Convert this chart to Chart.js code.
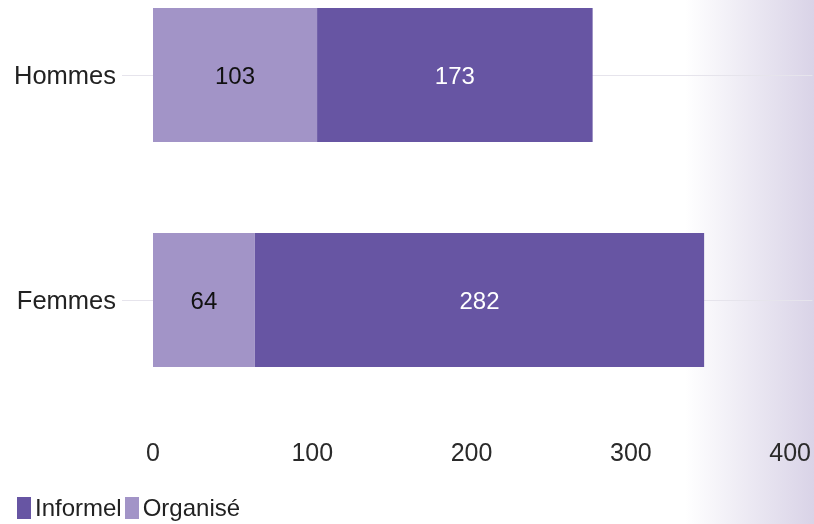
<html>
<head>
<script src="https://cdn.jsdelivr.net/npm/chart.js@4/dist/chart.umd.min.js"></script>
<style>
  html, body { margin: 0; padding: 0; }
  body {
    width: 814px; height: 524px; overflow: hidden; position: relative;
    background: linear-gradient(to right, #ffffff 0px, #ffffff 685px, #d9d3e7 814px);
    font-family: "Liberation Sans", Arial, sans-serif;
  }
  #wrap { position: absolute; left: 0; top: 0; width: 814px; height: 524px; }
  #legend { position: absolute; left: 17px; top: 497px; display: flex; align-items: center; }
  #legend .item { display: flex; align-items: center; margin-right: 3px; }
  #legend .box { width: 14px; height: 22px; margin-right: 4px; }
  #legend .txt { font-size: 24px; color: #222; line-height: 22px; }
</style>
</head>
<body>
<div id="wrap"><canvas id="chart"></canvas></div>
<div id="legend"></div>

<script>
  // categories and series
  var categories = ["Hommes", "Femmes"];
  var organise = [103, 64];
  var informel = [173, 282];
  var xTicks = [0, 100, 200, 300, 400];

  var colorOrganise = "#a294c7";
  var colorInformel = "#6755a3";

  // draws the value in the middle of each bar segment
  var valueLabels = {
    id: "valueLabels",
    afterDatasetsDraw: function(chart) {
      var ctx = chart.ctx;
      ctx.save();
      ctx.font = "24px 'Liberation Sans', Arial, sans-serif";
      ctx.textAlign = "center";
      ctx.textBaseline = "middle";
      chart.data.datasets.forEach(function(ds, i) {
        var meta = chart.getDatasetMeta(i);
        meta.data.forEach(function(bar, j) {
          var p = bar.getProps(["x", "y", "base"], true);
          ctx.fillStyle = ds.labelColor;
          ctx.fillText(ds.data[j], (p.x + p.base) / 2, p.y + 2);
        });
      });
      ctx.restore();
    }
  };

  var ctx = document.getElementById("chart").getContext("2d");
  var chart = new Chart(ctx, {
    type: "bar",
    data: {
      labels: categories,
      datasets: [
        {
          label: "Organisé",
          data: organise,
          backgroundColor: colorOrganise,
          labelColor: "#111111",
          clip: false
        },
        {
          label: "Informel",
          data: informel,
          backgroundColor: colorInformel,
          labelColor: "#ffffff",
          clip: false
        }
      ]
    },
    options: {
      indexAxis: "y",
      responsive: true,
      maintainAspectRatio: false,
      animation: false,
      categoryPercentage: 1,
      barPercentage: 0.596,
      layout: { padding: { top: 75, right: 0, left: 0, bottom: 0 } },
      plugins: {
        legend: { display: false },
        tooltip: { enabled: false }
      },
      scales: {
        x: {
          stacked: true,
          min: 0,
          max: 414,
          border: { display: false },
          grid: { display: false, drawTicks: true, tickLength: 136 },
          afterBuildTicks: function(scale) {
            scale.ticks = xTicks.map(function(v) { return { value: v }; });
          },
          afterFit: function(scale) { scale.height = 224; },
          ticks: {
            padding: 3,
            maxRotation: 0,
            color: "#2a2a2a",
            font: { family: "'Liberation Sans', Arial, sans-serif", size: 25 }
          }
        },
        y: {
          stacked: true,
          offset: false,
          border: { display: false },
          grid: { offset: false, color: "#e6e4ec", lineWidth: 1, tickLength: 31, drawTicks: true },
          afterFit: function(scale) { scale.width = 153; },
          ticks: {
            padding: 6,
            labelOffset: 2,
            color: "#222222",
            font: { family: "'Liberation Sans', Arial, sans-serif", size: 25.5 }
          }
        }
      }
    },
    plugins: [valueLabels]
  });

  // legend built from the chart datasets, Informel first
  var legend = document.getElementById("legend");
  chart.data.datasets.slice().reverse().forEach(function(ds) {
    var item = document.createElement("div");
    item.className = "item";
    var box = document.createElement("div");
    box.className = "box";
    box.style.background = ds.backgroundColor;
    var txt = document.createElement("span");
    txt.className = "txt";
    txt.textContent = ds.label;
    item.appendChild(box);
    item.appendChild(txt);
    legend.appendChild(item);
  });
</script>
</body>
</html>
